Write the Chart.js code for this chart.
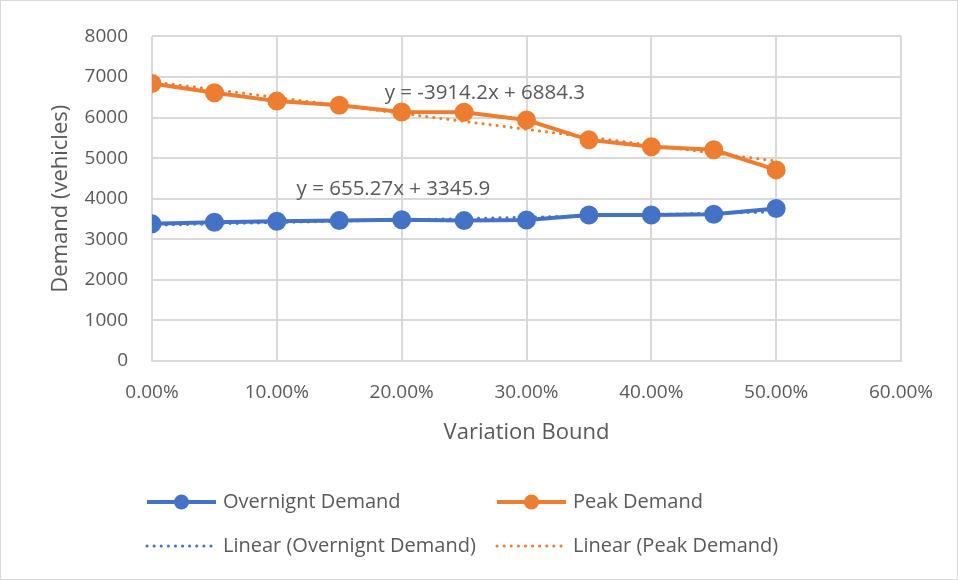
<!DOCTYPE html>
<html>
<head>
<meta charset="utf-8">
<script src="https://cdn.jsdelivr.net/npm/chart.js@4.4.1/dist/chart.umd.min.js"></script>
<style>
html, body { margin: 0; padding: 0; background: #fff; }
#wrap { position: relative; width: 958px; height: 580px; box-sizing: border-box; border: 1px solid #d9d9d9; }
</style>
</head>
<body>
<div id="wrap"><canvas id="demandChart"></canvas></div>
<script>
// values
const variation = [0, 0.05, 0.10, 0.15, 0.20, 0.25, 0.30, 0.35, 0.40, 0.45, 0.50];
const overnight = [3380, 3420, 3445, 3460, 3480, 3460, 3475, 3600, 3600, 3615, 3760];
const peak = [6840, 6610, 6405, 6305, 6135, 6130, 5940, 5450, 5280, 5205, 4710];

// trendline end points (from the equations shown)
const trendX = [0, 0.5];
const overnightTrend = [3345.9, 3673.5];
const peakTrend = [6884.3, 4927.2];

const equations = ["y = 655.27x + 3345.9", "y = -3914.2x + 6884.3"];
const equationX = [0.1158, 0.1864];
const equationY = [4238, 6609];

const seriesNames = ["Overnignt Demand", "Peak Demand", "Linear (Overnignt Demand)", "Linear (Peak Demand)"];

const blue = "#4472C4";
const orange = "#ED7D31";
const textColor = "#595959";
const gridColor = "#d9d9d9";
const fontFamily = "'Open Sans', Lato, sans-serif";

function pts(xs, ys) {
    return xs.map((x, i) => ({ x: x, y: ys[i] }));
}

// equations written next to the trendlines
const equationLabels = {
    id: "equationLabels",
    afterDatasetsDraw(chart) {
        const ctx = chart.ctx;
        const xs = chart.scales.x;
        const ys = chart.scales.y;
        ctx.save();
        ctx.font = "20.5px " + fontFamily;
        ctx.fillStyle = textColor;
        ctx.textAlign = "left";
        ctx.textBaseline = "middle";
        equations.forEach((t, i) => {
            ctx.fillText(t, xs.getPixelForValue(equationX[i]), ys.getPixelForValue(equationY[i]));
        });
        ctx.restore();
    }
};

// two column legend under the chart
const gridLegend = {
    id: "gridLegend",
    afterDraw(chart) {
        const ctx = chart.ctx;
        const spots = [[146, 501], [496, 501], [146, 545], [496, 545]];
        ctx.save();
        ctx.font = "20px " + fontFamily;
        ctx.textBaseline = "middle";
        chart.data.datasets.forEach((ds, i) => {
            const x = spots[i][0], y = spots[i][1];
            ctx.strokeStyle = ds.borderColor;
            ctx.lineWidth = ds.borderWidth;
            ctx.lineCap = ds.borderDash.length ? "round" : "butt";
            ctx.setLineDash(ds.borderDash);
            ctx.beginPath();
            ctx.moveTo(x, y);
            ctx.lineTo(x + 69, y);
            ctx.stroke();
            ctx.setLineDash([]);
            if (ds.pointRadius > 0) {
                ctx.fillStyle = ds.borderColor;
                ctx.beginPath();
                ctx.arc(x + 34.5, y, ds.pointRadius, 0, Math.PI * 2);
                ctx.fill();
            }
            ctx.fillStyle = textColor;
            ctx.fillText(ds.label, x + 76, y);
        });
        ctx.restore();
    }
};

new Chart(document.getElementById("demandChart"), {
    type: "line",
    data: {
        datasets: [
            {
                label: seriesNames[0],
                data: pts(variation, overnight),
                borderColor: blue,
                backgroundColor: blue,
                borderWidth: 4,
                borderDash: [],
                pointRadius: 7.5,
                pointHoverRadius: 7.5,
                order: 2
            },
            {
                label: seriesNames[1],
                data: pts(variation, peak),
                borderColor: orange,
                backgroundColor: orange,
                borderWidth: 4,
                borderDash: [],
                pointRadius: 7.5,
                pointHoverRadius: 7.5,
                order: 2
            },
            {
                label: seriesNames[2],
                data: pts(trendX, overnightTrend),
                borderColor: blue,
                backgroundColor: blue,
                borderWidth: 3,
                borderDash: [0.1, 7],
                borderCapStyle: "round",
                pointRadius: 0,
                order: 1
            },
            {
                label: seriesNames[3],
                data: pts(trendX, peakTrend),
                borderColor: orange,
                backgroundColor: orange,
                borderWidth: 3,
                borderDash: [0.1, 7],
                borderCapStyle: "round",
                pointRadius: 0,
                order: 1
            }
        ]
    },
    options: {
        responsive: true,
        maintainAspectRatio: false,
        animation: false,
        layout: { padding: { top: 34, right: 56, bottom: 128, left: 0 } },
        plugins: {
            legend: { display: false },
            tooltip: { enabled: false }
        },
        scales: {
            x: {
                type: "linear",
                min: 0,
                max: 0.6,
                afterFit(scale) { scale.height = 90; },
                ticks: {
                    stepSize: 0.1,
                    color: textColor,
                    font: { family: fontFamily, size: 19 },
                    padding: 20,
                    maxRotation: 0,
                    callback: v => (v * 100).toFixed(2) + "%"
                },
                grid: { color: gridColor, lineWidth: 2, drawTicks: false },
                border: { color: gridColor, width: 2 },
                title: {
                    display: true,
                    text: "Variation Bound",
                    color: textColor,
                    font: { family: fontFamily, size: 22 },
                    padding: { top: 0, bottom: 5 }
                }
            },
            y: {
                min: 0,
                max: 8000,
                afterFit(scale) { scale.width = 151; },
                ticks: {
                    stepSize: 1000,
                    color: textColor,
                    font: { family: fontFamily, size: 19 },
                    padding: 24,
                    callback: v => String(v)
                },
                grid: { color: gridColor, lineWidth: 2, drawTicks: false },
                border: { display: false },
                title: {
                    display: true,
                    text: "Demand (vehicles)",
                    color: textColor,
                    font: { family: fontFamily, size: 22 },
                    padding: { top: 47, bottom: 0 }
                }
            }
        }
    },
    plugins: [equationLabels, gridLegend]
});
</script>
</body>
</html>
